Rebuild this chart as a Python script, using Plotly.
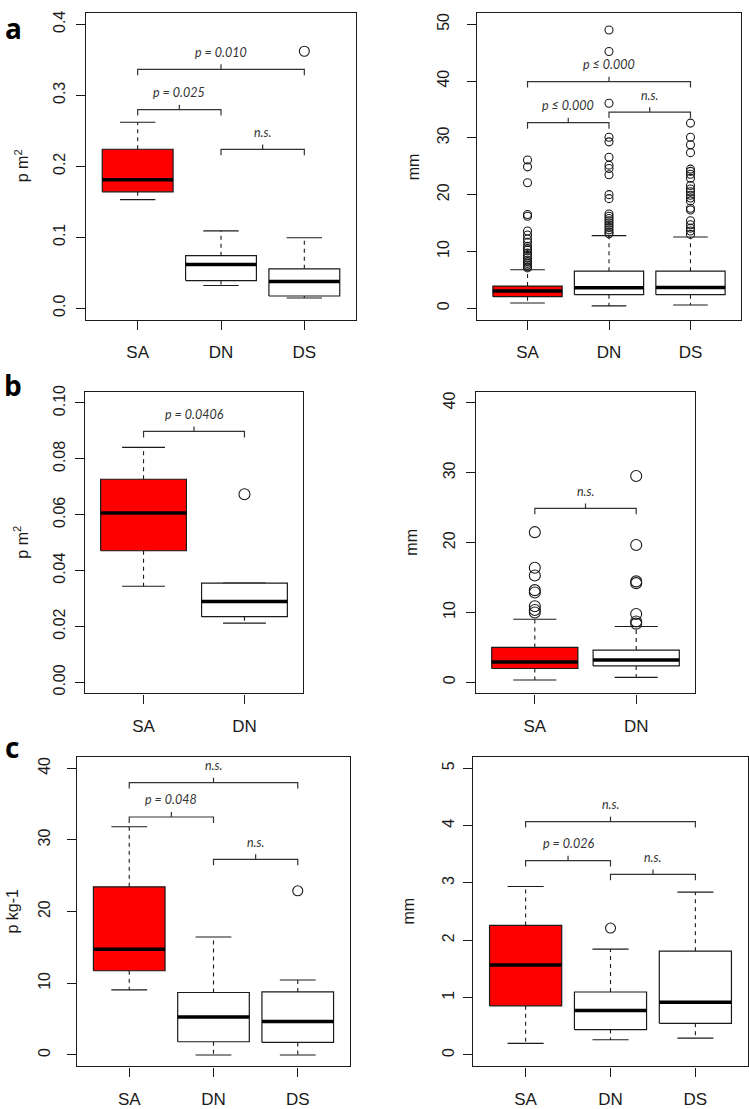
import plotly.graph_objects as go

W, H = 749, 1109

# ---------------- data ----------------
CATS_3 = ["SA", "DN", "DS"]
CATS_2 = ["SA", "DN"]

# a, left: density (p m^2)
A1_LOW = [0.153, 0.032, 0.0145]
A1_Q1 = [0.164, 0.039, 0.0172]
A1_MED = [0.181, 0.0615, 0.0378]
A1_Q3 = [0.224, 0.074, 0.0555]
A1_HIGH = [0.262, 0.109, 0.0993]
A1_OUT = [[], [], [0.362]]
A1_YTICKS = [0.0, 0.1, 0.2, 0.3, 0.4]
A1_YLIM = [0.0, 0.4]

# a, right: size (mm)
A2_LOW = [0.93, 0.41, 0.58]
A2_Q1 = [2.04, 2.39, 2.39]
A2_MED = [3.03, 3.62, 3.67]
A2_Q3 = [3.9, 6.53, 6.53]
A2_HIGH = [6.77, 12.78, 12.55]
A2_OUT = [
    [26.1, 24.9, 22.1, 16.5, 16.2, 13.6, 12.9, 12.2, 11.6, 10.9, 10.5, 10.2,
     9.7, 9.3, 8.9, 8.5, 8.2, 7.9, 7.6, 7.3, 7.1],
    [49.0, 45.2, 36.1, 30.1, 29.3, 26.6, 25.2, 24.6, 23.5, 20.0, 19.3, 16.6,
     16.2, 15.8, 15.4, 15.0, 14.6, 14.2, 13.8, 13.4, 13.1],
    [32.6, 30.1, 28.8, 27.4, 24.5, 24.1, 23.6, 22.9, 21.6, 21.0, 20.5, 19.9,
     19.4, 18.9, 17.6, 17.3, 15.4, 14.7, 14.1, 13.6, 13.0],
]
A2_YTICKS = [0, 10, 20, 30, 40, 50]
A2_YLIM = [0, 50]

# b, left: density (p m^2)
B1_LOW = [0.0344, 0.0212]
B1_Q1 = [0.0471, 0.0235]
B1_MED = [0.0606, 0.0289]
B1_Q3 = [0.0727, 0.0355]
B1_HIGH = [0.0841, 0.0355]
B1_OUT = [[], [0.0673]]
B1_YTICKS = [0.00, 0.02, 0.04, 0.06, 0.08, 0.10]
B1_YLIM = [0.0, 0.1]

# b, right: size (mm)
B2_LOW = [0.33, 0.71]
B2_Q1 = [1.98, 2.35]
B2_MED = [2.92, 3.2]
B2_Q3 = [4.99, 4.61]
B2_HIGH = [9.04, 8.0]
B2_OUT = [
    [21.5, 16.4, 15.3, 13.2, 12.85, 10.9, 10.35, 10.0],
    [29.55, 19.67, 14.45, 14.2, 9.79, 8.7, 8.4],
]
B2_YTICKS = [0, 10, 20, 30, 40]
B2_YLIM = [0, 40]

# c, left: density (p kg-1)
C1_LOW = [9.08, 0.0, 0.0]
C1_Q1 = [11.75, 1.84, 1.75]
C1_MED = [14.75, 5.3, 4.65]
C1_Q3 = [23.46, 8.71, 8.8]
C1_HIGH = [31.84, 16.45, 10.46]
C1_OUT = [[], [], [22.9]]
C1_YTICKS = [0, 10, 20, 30, 40]
C1_YLIM = [0, 40]

# c, right: size (mm)
C2_LOW = [0.201, 0.264, 0.293]
C2_Q1 = [0.856, 0.443, 0.552]
C2_MED = [1.569, 0.776, 0.92]
C2_Q3 = [2.259, 1.098, 1.81]
C2_HIGH = [2.937, 1.845, 2.839]
C2_OUT = [[], [2.213], []]
C2_YTICKS = [0, 1, 2, 3, 4, 5]
C2_YLIM = [0, 5]

# significance brackets: (group i, group j, height, label)
A1_BRACKETS = [(0, 2, 0.3366, "p = 0.010"), (0, 1, 0.2797, "p = 0.025"), (1, 2, 0.2238, "n.s.")]
A2_BRACKETS = [(0, 2, 39.9, "p ≤ 0.000"), (0, 1, 32.67, "p ≤ 0.000"), (1, 2, 34.54, "n.s.")]
B1_BRACKETS = [(0, 1, 0.0898, "p = 0.0406")]
B2_BRACKETS = [(0, 1, 24.9, "n.s.")]
C1_BRACKETS = [(0, 2, 38.0, "n.s."), (0, 1, 33.2, "p = 0.048"), (1, 2, 27.3, "n.s.")]
C2_BRACKETS = [(0, 2, 4.07, "n.s."), (0, 1, 3.39, "p = 0.026"), (1, 2, 3.15, "n.s.")]

# ---------------- style / layout ----------------
LINE = "#1a1a1a"
TEXT = "#1a1a1a"
NOTE = "#333333"
SA_FILL = "#ff0000"
FONT = "Liberation Sans, Arial, sans-serif"
NOTE_FONT = "Lato, Open Sans, sans-serif"

fig = go.Figure()
annotations = []
layout = {}


def add_panel(idx, cats, low, q1, med, q3, high, outs, yticks, ylim, tickfmt,
              frame, ytitle, brackets, msize, ylab_gap, letter=None):
    l, r, t, b = frame
    sfx = "" if idx == 1 else str(idx)
    xr, yr = "x" + sfx, "y" + sfx
    n = len(cats)
    xpad = 0.04 * n
    xrange = [0.5 - xpad, n + 0.5 + xpad]
    span = ylim[1] - ylim[0]
    yrange = [ylim[0] - 0.04 * span, ylim[1] + 0.04 * span]
    upp = (yrange[1] - yrange[0]) / (b - t)  # data units per pixel
    bw = 0.85
    cw = bw / 4

    # whiskers (dashed)
    wx, wy = [], []
    for i in range(n):
        c = i + 1
        wx += [c, c, None, c, c, None]
        wy += [q3[i], high[i], None, q1[i], low[i], None]
    fig.add_trace(go.Scatter(x=wx, y=wy, mode="lines", xaxis=xr, yaxis=yr,
                             line=dict(color=LINE, width=1.1, dash="4px,4px"),
                             hoverinfo="skip", showlegend=False))
    # caps
    cx, cy = [], []
    for i in range(n):
        c = i + 1
        cx += [c - cw, c + cw, None, c - cw, c + cw, None]
        cy += [high[i], high[i], None, low[i], low[i], None]
    fig.add_trace(go.Scatter(x=cx, y=cy, mode="lines", xaxis=xr, yaxis=yr,
                             line=dict(color=LINE, width=1.1),
                             hoverinfo="skip", showlegend=False))
    # boxes
    for i in range(n):
        c = i + 1
        fig.add_trace(go.Scatter(
            x=[c - bw / 2, c + bw / 2, c + bw / 2, c - bw / 2, c - bw / 2],
            y=[q1[i], q1[i], q3[i], q3[i], q1[i]],
            mode="lines", fill="toself",
            fillcolor=SA_FILL if cats[i] == "SA" else "#ffffff",
            xaxis=xr, yaxis=yr, line=dict(color=LINE, width=1.2),
            hoverinfo="skip", showlegend=False))
    # medians
    mx, my = [], []
    for i in range(n):
        c = i + 1
        mx += [c - bw / 2, c + bw / 2, None]
        my += [med[i], med[i], None]
    fig.add_trace(go.Scatter(x=mx, y=my, mode="lines", xaxis=xr, yaxis=yr,
                             line=dict(color="#000000", width=3.5),
                             hoverinfo="skip", showlegend=False))
    # outliers
    ox, oy = [], []
    for i in range(n):
        for v in outs[i]:
            ox.append(i + 1)
            oy.append(v)
    if ox:
        fig.add_trace(go.Scatter(x=ox, y=oy, mode="markers", xaxis=xr, yaxis=yr,
                                 marker=dict(symbol="circle-open", size=msize,
                                             color=LINE, line=dict(width=1.1)),
                                 hoverinfo="skip", showlegend=False))
    # brackets
    drop = 6 * upp
    tick = 5 * upp
    bx, by = [], []
    for (i, j, yb, lab) in brackets:
        x1, x2 = i + 1, j + 1
        xm = (x1 + x2) / 2
        bx += [x1, x1, x2, x2, None, xm, xm, None]
        by += [yb - drop, yb, yb, yb - drop, None, yb, yb + tick, None]
        annotations.append(dict(x=xm, y=yb, xref=xr, yref=yr, text=lab,
                                showarrow=False, yshift=17, yanchor="middle",
                                font=dict(family=NOTE_FONT, size=12.5,
                                          color=NOTE, style="italic")))
    fig.add_trace(go.Scatter(x=bx, y=by, mode="lines", xaxis=xr, yaxis=yr,
                             line=dict(color=NOTE, width=1.2),
                             hoverinfo="skip", showlegend=False))

    layout["xaxis" + sfx] = dict(
        domain=[l / W, r / W], range=xrange, anchor=yr,
        tickvals=list(range(1, n + 1)), ticktext=cats,
        ticks="outside", ticklen=9, tickwidth=1, tickcolor=LINE,
        showline=True, mirror=True, linecolor=LINE, linewidth=1.2,
        showgrid=False, zeroline=False, ticklabelstandoff=8,
        tickfont=dict(family=FONT, size=17, color=TEXT), fixedrange=True)
    layout["yaxis" + sfx] = dict(
        domain=[1 - b / H, 1 - t / H], range=yrange, anchor=xr,
        tickvals=yticks, tickformat=tickfmt, tickangle=-90,
        ticks="outside", ticklen=9, tickwidth=1, tickcolor=LINE,
        showline=True, mirror=True, linecolor=LINE, linewidth=1.2,
        showgrid=False, zeroline=False, ticklabelstandoff=ylab_gap,
        tickfont=dict(family=FONT, size=16, color=TEXT), fixedrange=True)
    # y-axis title
    annotations.append(dict(x=(l - 64) / W, y=1 - (t + b) / 2 / H, xref="paper",
                            yref="paper", text=ytitle, textangle=-90,
                            showarrow=False, xanchor="center", yanchor="middle",
                            font=dict(family=FONT, size=16, color=TEXT)))
    if letter:
        annotations.append(dict(x=letter[1] / W, y=1 - letter[2] / H, xref="paper",
                                yref="paper", text="<b>%s</b>" % letter[0],
                                showarrow=False, xanchor="center", yanchor="top",
                                font=dict(family="Open Sans, sans-serif", size=28,
                                          color="#000000")))


add_panel(1, CATS_3, A1_LOW, A1_Q1, A1_MED, A1_Q3, A1_HIGH, A1_OUT, A1_YTICKS,
          A1_YLIM, ".1f", (86, 356, 6, 316), "p m<sup>2</sup>", A1_BRACKETS, 10, 5,
          ("a", 13, 0))
add_panel(2, CATS_3, A2_LOW, A2_Q1, A2_MED, A2_Q3, A2_HIGH, A2_OUT, A2_YTICKS,
          A2_YLIM, "d", (477, 741, 6, 316), "mm", A2_BRACKETS, 8, 12)
add_panel(3, CATS_2, B1_LOW, B1_Q1, B1_MED, B1_Q3, B1_HIGH, B1_OUT, B1_YTICKS,
          B1_YLIM, ".2f", (85, 303, 389, 694), "p m<sup>2</sup>", B1_BRACKETS, 11, 4,
          ("b", 13, 361))
add_panel(4, CATS_2, B2_LOW, B2_Q1, B2_MED, B2_Q3, B2_HIGH, B2_OUT, B2_YTICKS,
          B2_YLIM, "d", (476, 695, 389, 694), "mm", B2_BRACKETS, 11, 5)
add_panel(5, CATS_3, C1_LOW, C1_Q1, C1_MED, C1_Q3, C1_HIGH, C1_OUT, C1_YTICKS,
          C1_YLIM, "d", (77, 350, 758, 1071), "p kg-1", C1_BRACKETS, 10, 11,
          ("c", 12, 727))
add_panel(6, CATS_3, C2_LOW, C2_Q1, C2_MED, C2_Q3, C2_HIGH, C2_OUT, C2_YTICKS,
          C2_YLIM, "d", (473, 748, 758, 1071), "mm", C2_BRACKETS, 10, 3)

fig.update_layout(
    width=W, height=H, autosize=False,
    margin=dict(l=0, r=0, t=0, b=0, pad=0),
    paper_bgcolor="#ffffff", plot_bgcolor="#ffffff",
    showlegend=False, annotations=annotations, **layout)

fig.write_html("out.html", config={"displayModeBar": False},
               post_script="document.body.style.margin='0';")
